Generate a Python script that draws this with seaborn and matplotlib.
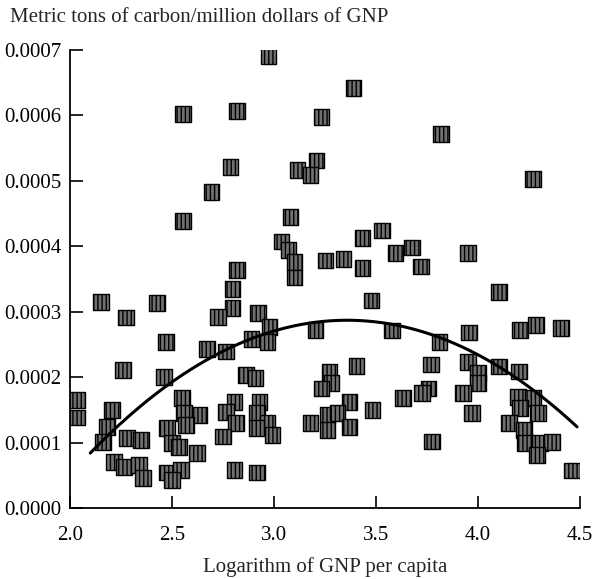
import numpy as np
import pandas as pd
import seaborn as sns
import matplotlib.pyplot as plt

# log of GNP per capita
log_gnp = [
    2.555, 2.820, 2.786, 2.693, 2.555, 2.820, 2.796, 2.796, 2.727, 2.152,
    2.275, 2.427, 2.472, 2.673, 2.766, 2.260, 2.462, 2.034, 2.034, 2.206,
    2.182, 2.162, 2.280, 2.349, 2.216, 2.265, 2.339, 2.359, 2.550, 2.560,
    2.634, 2.570, 2.476, 2.501, 2.535, 2.624, 2.476, 2.545, 2.501, 2.806,
    2.766, 2.815, 2.751, 2.806, 2.864, 2.909,
    2.973, 3.390, 3.233, 3.208, 3.115, 3.179, 3.081, 3.036, 3.071, 3.100,
    3.100, 3.252, 3.341, 3.434, 3.528, 3.434, 3.596, 3.675, 3.478, 2.923,
    2.977, 2.889, 2.968, 3.203, 3.577, 3.405, 3.272, 3.282, 3.233, 3.370,
    3.483, 3.631, 2.928, 2.918, 2.968, 2.914, 2.992, 3.179, 3.262, 3.311,
    3.262, 3.370, 2.918,
    3.817, 4.269, 3.719, 3.950, 4.102, 4.205, 4.284, 4.407, 3.812, 3.955,
    3.768, 3.950, 3.999, 3.999, 4.102, 4.200, 3.758, 3.724, 3.925, 3.970,
    4.195, 4.269, 4.205, 4.294, 4.151, 4.225, 4.230, 4.304, 4.362, 4.289,
    3.773, 4.461,
]

# metric tons of carbon per million dollars of GNP (x 1e-4)
carbon = [
    6.02, 6.07, 5.21, 4.83, 4.39, 3.64, 3.35, 3.06, 2.92, 3.15,
    2.91, 3.13, 2.54, 2.43, 2.39, 2.11, 2.00, 1.65, 1.38, 1.50,
    1.24, 1.01, 1.07, 1.04, 0.70, 0.63, 0.66, 0.46, 1.68, 1.45,
    1.42, 1.27, 1.22, 0.99, 0.93, 0.84, 0.54, 0.58, 0.43, 1.62,
    1.47, 1.30, 1.09, 0.58, 2.03, 1.99,
    6.91, 6.42, 5.98, 5.31, 5.17, 5.09, 4.45, 4.07, 3.94, 3.76,
    3.52, 3.78, 3.81, 4.13, 4.24, 3.67, 3.90, 3.98, 3.17, 2.98,
    2.77, 2.58, 2.54, 2.72, 2.71, 2.17, 2.08, 1.91, 1.83, 1.62,
    1.50, 1.68, 1.62, 1.45, 1.31, 1.22, 1.12, 1.30, 1.42, 1.45,
    1.19, 1.24, 0.54,
    5.72, 5.03, 3.69, 3.90, 3.30, 2.72, 2.80, 2.75, 2.54, 2.68,
    2.19, 2.23, 2.06, 1.91, 2.16, 2.09, 1.83, 1.76, 1.76, 1.45,
    1.70, 1.68, 1.53, 1.45, 1.30, 1.19, 0.99, 0.99, 1.01, 0.81,
    1.02, 0.57,
]

# quadratic fit: y = a*(x - h)^2 + k
fit_a, fit_h, fit_k = -1.283e-4, 3.358, 2.87e-4
fit_range = (2.10, 4.485)

df = pd.DataFrame({"log_gnp": log_gnp, "carbon": np.array(carbon) * 1e-4})

sns.set_theme(style="ticks")
plt.rcParams["font.family"] = ["Liberation Serif", "DejaVu Serif"]

fig = plt.figure(figsize=(5.92, 5.79), dpi=100)
ax = fig.add_axes([0.118, 0.1226, 0.862, 0.791])

sns.scatterplot(
    data=df, x="log_gnp", y="carbon", ax=ax,
    marker="s", s=125, color="#707070", edgecolor="black",
    linewidth=1.0, hatch="||||", zorder=2, legend=False
)

xs = np.linspace(fit_range[0], fit_range[1], 200)
ax.plot(xs, fit_a * (xs - fit_h) ** 2 + fit_k, color="black", lw=2.2, zorder=3)

ax.set_xlim(2.0, 4.5)
ax.set_ylim(0, 0.0007)
ax.set_xticks([2.0, 2.5, 3.0, 3.5, 4.0, 4.5])
ax.set_xticklabels(["2.0", "2.5", "3.0", "3.5", "4.0", "4.5"])
ax.set_yticks(np.arange(0, 0.00071, 0.0001))
ax.set_yticklabels([f"{v:.4f}" for v in np.arange(0, 0.00071, 0.0001)])
ax.tick_params(direction="in", length=9, width=1.2, labelsize=15, colors="black", pad=6)
ax.tick_params(axis="x", pad=13)
for side in ["top", "right"]:
    ax.spines[side].set_visible(False)
for side in ["left", "bottom"]:
    ax.spines[side].set_linewidth(1.3)
    ax.spines[side].set_color("black")
ax.set_xlabel("Logarithm of GNP per capita", fontsize=15, labelpad=9)
ax.set_ylabel("")

fig.text(0.017, 0.969, "Metric tons of carbon/million dollars of GNP",
         fontsize=15, va="center", ha="left")

fig.savefig("out.png", dpi=100)
